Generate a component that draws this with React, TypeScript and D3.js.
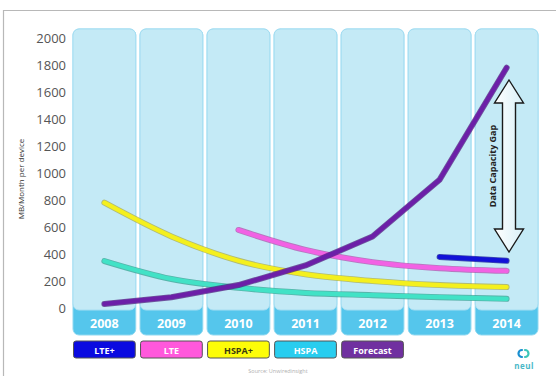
import React from "react";
import * as d3 from "d3";

const years = ["2008", "2009", "2010", "2011", "2012", "2013", "2014"];
const yTicks = [0, 200, 400, 600, 800, 1000, 1200, 1400, 1600, 1800, 2000];

const hspaPlus = [780, 530, 350, 250, 200, 170, 155];
const hspa = [348, 215, 150, 112, 95, 80, 68];
const lte = [null, null, 578, 430, 340, 295, 275];
const ltePlus = [null, null, null, null, null, 378, 350];
const forecast = [30, 80, 170, 315, 530, 950, 1780];

const legendItems = ["LTE+", "LTE", "HSPA+", "HSPA", "Forecast"];
const legendFill = ["#0a0ae0", "#ff58dc", "#fdfd08", "#28cdef", "#7030a0"];
const legendText = ["#ffffff", "#ffffff", "#3a3a10", "#ffffff", "#ffffff"];

const series = [
  { name: "HSPA", values: hspa, color: "#42e2c6", edge: "#2a9c8a", smooth: true },
  { name: "HSPA+", values: hspaPlus, color: "#f4f01e", edge: "#a8a640", smooth: true },
  { name: "LTE", values: lte, color: "#f262e4", edge: "#b048a8", smooth: true },
  { name: "Forecast", values: forecast, color: "#6c1fa8", edge: "#4a1478", smooth: false },
  { name: "LTE+", values: ltePlus, color: "#1212d8", edge: "#0a0a90", smooth: true },
];

export default function App() {
  const W = 556;
  const H = 376;
  const x = d3.scaleBand<string>().domain(years).range([73, 538]).paddingInner(0.064).paddingOuter(0);
  const y = d3.scaleLinear().domain([0, 2000]).range([308, 38]);
  const bw = x.bandwidth();
  const cx = (yr: string) => (x(yr) as number) + bw / 2;

  const makeLine = (smooth: boolean) =>
    d3
      .line<{ yr: string; v: number | null }>()
      .defined((d) => d.v != null)
      .x((d) => cx(d.yr))
      .y((d) => y(d.v as number))
      .curve(smooth ? d3.curveMonotoneX : d3.curveLinear);

  const colTop = 29;
  const colBottom = 335;
  const lightBottom = 310;

  const arrowX = 509;
  const arrowTop = 80;
  const arrowBot = 252;
  const headH = 23;
  const headW = 14.5;
  const shaftW = 6.5;
  const arrowPath = [
    `M${arrowX},${arrowTop}`,
    `L${arrowX + headW},${arrowTop + headH}`,
    `L${arrowX + shaftW},${arrowTop + headH}`,
    `L${arrowX + shaftW},${arrowBot - headH}`,
    `L${arrowX + headW},${arrowBot - headH}`,
    `L${arrowX},${arrowBot}`,
    `L${arrowX - headW},${arrowBot - headH}`,
    `L${arrowX - shaftW},${arrowBot - headH}`,
    `L${arrowX - shaftW},${arrowTop + headH}`,
    `L${arrowX - headW},${arrowTop + headH}`,
    "Z",
  ].join(" ");

  return (
    <svg
      width={W}
      height={H}
      viewBox={`0 0 ${W} ${H}`}
      style={{ position: "absolute", left: 0, top: 0, background: "#ffffff" }}
    >
      <defs>
        <linearGradient id="arrowGrad" x1="0" x2="1" y1="0" y2="0">
          <stop offset="0" stopColor="#ffffff" />
          <stop offset="1" stopColor="#d8f0f8" />
        </linearGradient>
      </defs>
      <rect x={0} y={0} width={W} height={H} fill="#ffffff" />
      <path d={`M3.5,${H} L3.5,10.5 L${W},10.5`} fill="none" stroke="#b8b8b8" strokeWidth={1.2} />

      {years.map((yr) => {
        const x0 = x(yr) as number;
        return (
          <g key={yr}>
            <rect x={x0} y={colTop} width={bw} height={colBottom - colTop} rx={6} fill="#55c6ec" stroke="#8fd8f0" strokeWidth={1} />
            <rect x={x0} y={colTop} width={bw} height={lightBottom - colTop} rx={6} fill="#c4eaf6" stroke="#a6def2" strokeWidth={1} />
            <text
              x={cx(yr)}
              y={327.5}
              textAnchor="middle"
              fontFamily="'Open Sans', Lato, sans-serif"
              fontWeight={700}
              fontSize={12.5}
              fill="#ffffff"
            >
              {yr}
            </text>
          </g>
        );
      })}

      {yTicks.map((t) => (
        <text
          key={t}
          x={66}
          y={y(t) + 4.5}
          textAnchor="end"
          fontFamily="'Open Sans', Lato, sans-serif"
          fontSize={13}
          fill="#555555"
        >
          {t}
        </text>
      ))}
      <text
        transform={`translate(24,179) rotate(-90)`}
        textAnchor="middle"
        fontFamily="'Open Sans', Lato, sans-serif"
        fontSize={8}
        fill="#333333"
      >
        MB/Month per device
      </text>

      {series.map((s) => {
        const pts = years.map((yr, i) => ({ yr, v: s.values[i] as number | null }));
        const d = makeLine(s.smooth)(pts) || "";
        return (
          <g key={s.name}>
            <path d={d} fill="none" stroke={s.edge} strokeWidth={6} strokeLinecap="round" strokeLinejoin="round" opacity={0.7} />
            <path d={d} fill="none" stroke={s.color} strokeWidth={4.3} strokeLinecap="round" strokeLinejoin="round" />
          </g>
        );
      })}

      <path d={arrowPath} fill="url(#arrowGrad)" stroke="#1a1a1a" strokeWidth={1.4} strokeLinejoin="miter" />
      <text
        transform={`translate(496,166) rotate(-90)`}
        textAnchor="middle"
        fontFamily="'Open Sans', Lato, sans-serif"
        fontWeight={700}
        fontSize={9}
        fill="#222222"
      >
        Data Capacity Gap
      </text>

      {legendItems.map((name, i) => {
        const x0 = x(years[i]) as number;
        return (
          <g key={name}>
            <rect x={x0 + 0.5} y={341} width={bw - 1} height={17} rx={2.5} fill={legendFill[i]} stroke="#555555" strokeWidth={1} />
            <text
              x={x0 + bw / 2}
              y={353.5}
              textAnchor="middle"
              fontFamily="'Open Sans', Lato, sans-serif"
              fontWeight={700}
              fontSize={9}
              fill={legendText[i]}
            >
              {name}
            </text>
          </g>
        );
      })}

      <text x={278} y={373} textAnchor="middle" fontFamily="'Open Sans', sans-serif" fontSize={5.5} fill="#b0b0b0">
        Source: Unwiredinsight
      </text>

      <g>
        <path d="M522,357 a3.5,3.5 0 0 1 0,-7" fill="none" stroke="#1a8fd0" strokeWidth={2.2} strokeLinecap="round" />
        <path d="M525,350 a3.5,3.5 0 0 1 0,7" fill="none" stroke="#3cc6b8" strokeWidth={2.2} strokeLinecap="round" />
        <text x={524} y={369} textAnchor="middle" fontFamily="'Open Sans', sans-serif" fontWeight={700} fontSize={8} fill="#4ab8c8" letterSpacing={0.5}>
          neul
        </text>
      </g>
    </svg>
  );
}
